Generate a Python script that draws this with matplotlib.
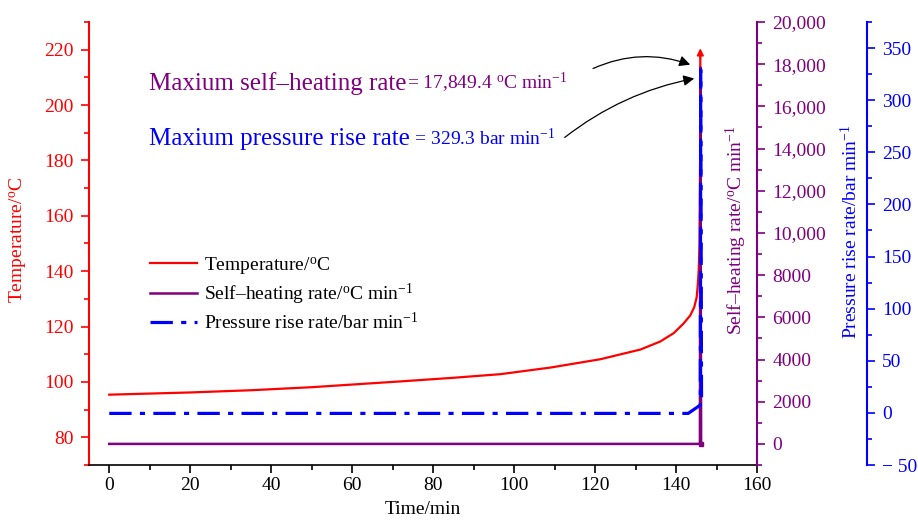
import matplotlib
matplotlib.use("Agg")
import matplotlib.pyplot as plt
from matplotlib.ticker import MultipleLocator, FuncFormatter

plt.rcParams['font.family'] = 'Liberation Serif'
plt.rcParams['mathtext.fontset'] = 'custom'
plt.rcParams['mathtext.rm'] = 'Liberation Serif'
plt.rcParams['mathtext.it'] = 'Liberation Serif:italic'
plt.rcParams['mathtext.bf'] = 'Liberation Serif:bold'

RED = '#ff0000'
PURPLE = '#800080'
BLUE = '#0000ff'

# temperature curve (min, degC)
time_T = [0, 20, 35, 50, 72, 85, 96.6, 109, 121.3, 131.2, 136.1, 139.4, 141.8, 143.5,
          144.5, 145.1, 145.4, 145.6, 145.8, 145.95, 146.0]
temp = [95.4, 96.2, 97.0, 98.1, 100.2, 101.5, 102.8, 105.2, 108.2, 111.7, 114.6, 117.6,
        121.0, 124.0, 127.0, 130.6, 135.5, 140.3, 150, 180, 218]

# self-heating rate (degC/min)
time_S = [0, 145.9, 146.0, 146.2]
heat_rate = [0, 0, 17849.4, 0]

# pressure rise rate (bar/min)
time_P = [0, 143, 146.0, 146.1, 146.3]
press_rate = [-0.5, -0.5, 7.5, 329.3, 12]

fig = plt.figure(figsize=(9.18, 5.23), dpi=100)
ax = fig.add_axes([89/918, 1-465/523, 668/918, 443/523])
ax2 = ax.twinx()
ax3 = ax.twinx()

#Temperature
l1, = ax.plot(time_T, temp, color=RED, lw=1.6, label='Temperature/$^{\\rm o}$C')
ax.annotate('', xy=(146.0, 221.5), xytext=(146.0, 216),
            arrowprops=dict(arrowstyle='-|>', color=RED, lw=1.2, mutation_scale=10))

#Self-heating rate
l2, = ax2.plot(time_S, heat_rate, color=PURPLE, lw=1.8, label='Self\u2013heating rate/$^{\\rm o}$C min$^{-1}$')
ax2.plot(time_S[-1:], heat_rate[-1:], 's', color=PURPLE, ms=3)

#Pressure rise rate
l3, = ax3.plot(time_P, press_rate, color=BLUE, lw=2.3, ls=(0, (7, 2.6, 1.6, 2.6)),
               label='Pressure rise rate/bar min$^{-1}$')

ax.set_xlim(-5, 160)
ax.set_ylim(70, 230)
ax2.set_ylim(-1000, 20000)
ax3.set_ylim(-50, 375)

ax.xaxis.set_major_locator(MultipleLocator(20))
ax.xaxis.set_minor_locator(MultipleLocator(10))
ax.yaxis.set_major_locator(MultipleLocator(20))
ax.yaxis.set_minor_locator(MultipleLocator(10))
ax2.yaxis.set_major_locator(MultipleLocator(2000))
ax2.yaxis.set_minor_locator(MultipleLocator(1000))
ax3.yaxis.set_major_locator(MultipleLocator(50))
ax3.yaxis.set_minor_locator(MultipleLocator(25))

ax2.yaxis.set_major_formatter(FuncFormatter(
    lambda v, p: '{:,.0f}'.format(v) if v >= 10000 else '{:.0f}'.format(v)))
ax3.yaxis.set_major_formatter(FuncFormatter(
    lambda v, p: '\u2212 {:.0f}'.format(-v) if v < 0 else '{:.0f}'.format(v)))

for a in (ax, ax2, ax3):
    a.spines['top'].set_visible(False)
ax.spines['right'].set_visible(False)
ax2.spines['left'].set_visible(False)
ax3.spines['left'].set_visible(False)
ax3.spines['bottom'].set_visible(False)
ax2.spines['bottom'].set_visible(False)
ax3.spines['right'].set_position(('axes', 1 + 110/668))

ax.spines['left'].set_color(RED)
ax.spines['left'].set_linewidth(1.5)
ax.spines['bottom'].set_linewidth(1.2)
ax2.spines['right'].set_color(PURPLE)
ax2.spines['right'].set_linewidth(1.5)
ax3.spines['right'].set_color(BLUE)
ax3.spines['right'].set_linewidth(1.5)

ax.tick_params(axis='x', which='major', direction='out', length=6, width=1.2, labelsize=14, pad=3)
ax.tick_params(axis='x', which='minor', direction='out', length=3.5, width=1.2)
ax.tick_params(axis='y', which='major', direction='out', length=6, width=1.2,
               colors=RED, labelsize=14, pad=5)
ax.tick_params(axis='y', which='minor', direction='out', length=3.5, width=1.2, colors=RED)
ax2.tick_params(axis='y', which='major', direction='out', length=6, width=1.2,
                colors=PURPLE, labelsize=14, pad=5)
ax2.tick_params(axis='y', which='minor', direction='out', length=3.5, width=1.2, colors=PURPLE)
ax3.tick_params(axis='y', which='major', direction='out', length=6, width=1.2,
                colors=BLUE, labelsize=14, pad=5)
ax3.tick_params(axis='y', which='minor', direction='out', length=3.5, width=1.2, colors=BLUE)

ax.set_xlabel('Time/min', fontsize=14, labelpad=5)
fig.text(18/918, 1-240/523, 'Temperature/$^{\\rm o}$C', rotation=90, color=RED,
         fontsize=14, ha='center', va='center')
fig.text(736/918, 1-230/523, 'Self\u2013heating rate/$^{\\rm o}$C min$^{-1}$', rotation=90,
         color=PURPLE, fontsize=14, ha='center', va='center')
fig.text(851/918, 1-232/523, 'Pressure rise rate/bar min$^{-1}$', rotation=90,
         color=BLUE, fontsize=14, ha='center', va='center')

#Annotations
t1 = ax.text(9.9, 205.6, 'Maxium self\u2013heating rate', fontsize=18, color=PURPLE, va='baseline')
ax.annotate('= 17,849.4 $^{\\rm o}$C min$^{-1}$', xy=(1, 205.6), xycoords=(t1, 'data'),
            va='baseline', fontsize=14, color=PURPLE)
t2 = ax.text(9.9, 185.4, 'Maxium pressure rise rate', fontsize=18, color=BLUE, va='baseline')
ax.annotate(' = 329.3 bar min$^{-1}$', xy=(1, 185.4), xycoords=(t2, 'data'),
            va='baseline', fontsize=14, color=BLUE)

ax3.annotate('', xy=(143.5, 214.6), xytext=(119.5, 213.2), xycoords=ax.transData,
             textcoords=ax.transData,
             arrowprops=dict(arrowstyle='-|>', color='black', lw=0.9, mutation_scale=16,
                             connectionstyle='arc3,rad=-0.2', shrinkA=0, shrinkB=0))
ax3.annotate('', xy=(144.5, 209.6), xytext=(112.5, 188.3), xycoords=ax.transData,
             textcoords=ax.transData,
             arrowprops=dict(arrowstyle='-|>', color='black', lw=0.9, mutation_scale=16,
                             connectionstyle='arc3,rad=-0.12', shrinkA=0, shrinkB=0))

leg = ax3.legend(handles=[l1, l2, l3], loc='upper left', bbox_to_anchor=(150/918, 1-255/523),
                 bbox_transform=fig.transFigure, frameon=False, fontsize=14,
                 borderpad=0, borderaxespad=0, handlelength=2.4, handletextpad=0.4,
                 labelspacing=0.25)

fig.savefig('out.png', dpi=100)
